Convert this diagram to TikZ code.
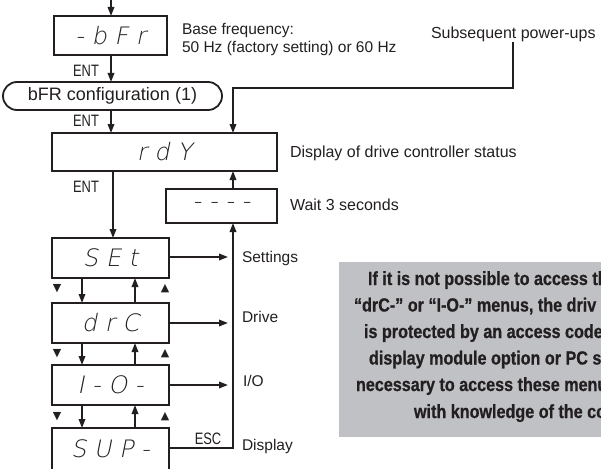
\documentclass[tikz,border=0pt]{standalone}
\usepackage{fontspec}
\setmainfont{Liberation Sans}
\newfontfamily\segfont{DejaVu Sans ExtraLight}[FakeSlant=0.2]
\newfontfamily\narrowfont{Liberation Sans}[FakeStretch=0.78]
\newfontfamily\grayfont{Liberation Sans Bold}[FakeStretch=0.85,FakeBold=0.8]
\newfontfamily\symfont{DejaVu Sans}
\usetikzlibrary{arrows.meta}
\definecolor{ink}{RGB}{35,31,32}
\definecolor{panel}{RGB}{192,193,197}
\begin{document}
\begin{tikzpicture}[x=1pt,y=-1pt,
  every node/.style={inner sep=0pt, outer sep=0pt, text=ink},
  disp/.style={draw=ink, line width=2pt, rectangle, font=\segfont\fontsize{24}{24}\selectfont},
  conn/.style={draw=ink, line width=1.8pt, -{Triangle[length=9pt,width=6.5pt]}},
  lbl/.style={anchor=base west, font=\fontsize{16}{18}\selectfont},
  lbls/.style={anchor=base west, font=\fontsize{15.5}{18}\selectfont},
  key/.style={font=\narrowfont\fontsize{16.5}{16.5}\selectfont},
  tri/.style={font=\symfont\fontsize{11}{11}\selectfont},
  gl/.style={anchor=base west, font=\grayfont\fontsize{19}{19}\selectfont}
]
\useasboundingbox (0,0) rectangle (601,468);
\clip (0,0) rectangle (601,468);

% gray note panel
\fill[panel] (339,262) rectangle (610,437);
\node[gl] (g1) at (368,285) {If it is not possible to access th};
\node[gl] (g2) at (354,311.5) {“drC-” or “I-O-” menus, the driv};
\node[gl] (g3) at (364,338) {is protected by an access code};
\node[gl] (g4) at (369,364.5) {display module option or PC s};
\node[gl] (g5) at (356,391) {necessary to access these menu};
\node[gl] (g6) at (414,418) {with knowledge of the co};

% display boxes
\node[disp, minimum width=113pt, minimum height=39pt] (bfr) at (110.5,35.5) {- b F r};
\node[draw=ink, line width=1.8pt, rounded corners=14pt, minimum width=219pt, minimum height=28pt,
      font=\fontsize{18}{18}\selectfont] (conf) at (112.5,96) {bFR configuration (1)};
\node[disp, minimum width=225pt, minimum height=38pt] (rdy) at (164.5,152) {r d Y};
\node[disp, minimum width=111pt, minimum height=34pt] (dash) at (221.5,206) {- - - -};
\node[disp, minimum width=117pt, minimum height=40pt] (set) at (110.5,258) {S E t};
\node[disp, minimum width=117pt, minimum height=40pt] (drc) at (110.5,323) {d r C};
\node[disp, minimum width=117pt, minimum height=40pt] (io) at (110.5,385) {I - O -};
\node[disp, minimum width=117pt, minimum height=42pt] (sup) at (110.5,449) {S U P -};

% labels
\node[lbls] (bf1) at (182,35) {Base frequency:};
\node[lbls] (bf2) at (182,53) {50 Hz (factory setting) or 60 Hz};
\node[lbl] (subs) at (431,39) {Subsequent power-ups};
\node[lbl] (stat) at (290,157) {Display of drive controller status};
\node[lbl] (wait) at (290,210) {Wait 3 seconds};
\node[lbls] (lset) at (242,262) {Settings};
\node[lbls] (ldrc) at (242,322) {Drive};
\node[lbls] (lio) at (243,386) {I/O};
\node[lbls] (lsup) at (242,450) {Display};
\node[key] (ent1) at (86,70.5) {ENT};
\node[key] (ent2) at (86,120.5) {ENT};
\node[key] (ent3) at (86,187) {ENT};
\node[key] (esc) at (208,439) {ESC};

% up/down key marks
\node[tri] (d1) at (57,289) {▼};
\node[tri] (u1) at (165,289) {▲};
\node[tri] (d2) at (57,354) {▼};
\node[tri] (u2) at (165,354) {▲};
\node[tri] (d3) at (57,417) {▼};
\node[tri] (u3) at (165,417) {▲};

% helper columns
\coordinate (top) at (111,0);
\coordinate (vx) at (233,0);
\coordinate (ax) at (228,0);
\coordinate (dx) at (82,0);
\coordinate (ux) at (135,0);
\coordinate (ex) at (113,0);

% main flow
\draw[conn] (top) -- (top |- bfr.north);
\draw[conn] (top |- bfr.south) -- (top |- conf.north);
\draw[conn] (top |- conf.south) -- (top |- rdy.north);
\draw[conn] (ex |- rdy.south) -- (ex |- set.north);

% subsequent power-ups
\draw[conn] (subs.south) |- (vx |- 0,88) -- (vx |- rdy.north);

% wait loop
\draw[conn] (vx |- dash.north) -- (vx |- rdy.south);
\draw[conn] (sup.east |- 0,448) -- (vx |- 0,448) -- (vx |- dash.south);

% menu arrows to the right
\draw[conn] (set.east |- 0,257) -- (ax |- 0,257);
\draw[conn] (drc.east) -- (ax |- drc.east);
\draw[conn] (io.east) -- (ax |- io.east);

% up/down between menus
\draw[conn] (dx |- set.south) -- (dx |- drc.north);
\draw[conn] (ux |- drc.north) -- (ux |- set.south);
\draw[conn] (dx |- drc.south) -- (dx |- io.north);
\draw[conn] (ux |- io.north) -- (ux |- drc.south);
\draw[conn] (dx |- io.south) -- (dx |- sup.north);
\draw[conn] (ux |- sup.north) -- (ux |- io.south);
\end{tikzpicture}
\end{document}
